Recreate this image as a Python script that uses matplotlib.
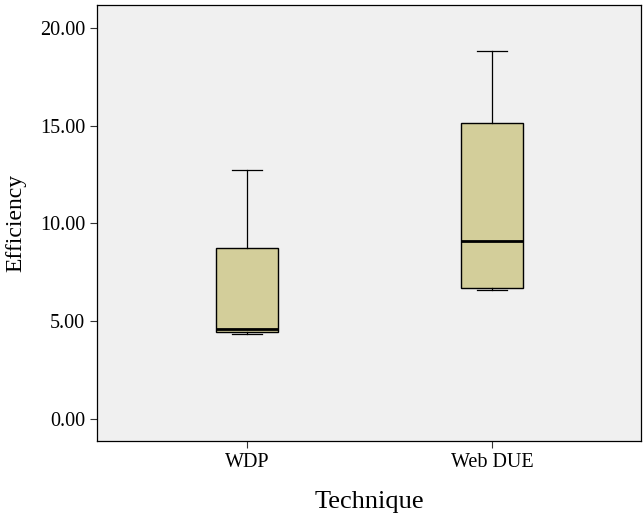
import matplotlib
matplotlib.use('Agg')
import matplotlib.pyplot as plt

# box plot summary
techniques = ['WDP', 'Web DUE']
whisker_low = [4.35, 6.60]
q1 = [4.45, 6.70]
median = [4.62, 9.10]
q3 = [8.75, 15.12]
whisker_high = [12.73, 18.85]
yticks = [0, 5, 10, 15, 20]

plt.rcParams['font.family'] = ['Liberation Serif', 'DejaVu Serif']

fig = plt.figure(figsize=(6.44, 5.24), dpi=100)
ax = fig.add_axes([97/644, 1 - 441/524, 544/644, 436/524])
ax.set_facecolor('#f0f0f0')

stats = []
for i in range(len(techniques)):
    stats.append({'label': techniques[i], 'whislo': whisker_low[i], 'q1': q1[i],
                  'med': median[i], 'q3': q3[i], 'whishi': whisker_high[i]})

ax.bxp(stats, positions=[1, 2], widths=0.25, showfliers=False, patch_artist=True,
       boxprops=dict(facecolor='#d3ce9a', edgecolor='black', linewidth=1.0),
       medianprops=dict(color='black', linewidth=2.0),
       whiskerprops=dict(color='black', linewidth=0.9),
       capprops=dict(color='black', linewidth=0.9),
       capwidths=0.125)

ax.set_xlim(0.388, 2.608)
ax.set_ylim(-1.13, 21.18)
ax.set_yticks(yticks)
ax.set_yticklabels(['%.2f' % v for v in yticks])
ax.tick_params(axis='both', labelsize=14.5, length=5, width=0.8, color='#333333')
for s in ax.spines.values():
    s.set_linewidth(0.9)

ax.set_ylabel('Efficiency', fontsize=17, labelpad=10)
ax.set_xlabel('Technique', fontsize=19, labelpad=14)

fig.savefig('out.png', dpi=100)
